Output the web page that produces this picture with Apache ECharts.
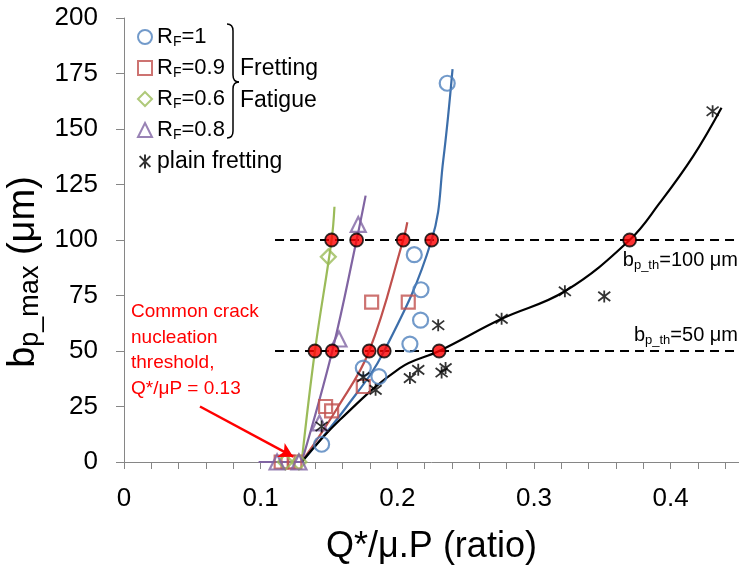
<!DOCTYPE html>
<html><head><meta charset="utf-8">
<script src="https://cdn.jsdelivr.net/npm/echarts@6/dist/echarts.min.js"></script>
<style>html,body{margin:0;padding:0;background:#fff}#c{width:739px;height:565px}</style>
</head><body><div id="c"></div>
<script>
// ---- data ----
const rf1 = [[0.1446,8],[0.1751,42.3],[0.1865,38.5],[0.2092,53.1],[0.217,63.9],[0.2173,77.6],[0.2124,93.4],[0.2365,170.6]];
const rf09 = [[0.115,0],[0.12,0],[0.125,0],[0.1475,25],[0.1519,23],[0.1751,34],[0.1812,72],[0.208,72]];
const rf06 = [[0.118,0],[0.128,0],[0.1495,92.4]];
const rf08 = [[0.112,0],[0.128,0],[0.143,17.6],[0.1573,55.4],[0.1714,107]];
const plain = [[0.1446,16],[0.1751,38.2],[0.1841,32.5],[0.2092,37.8],[0.2153,41.5],[0.2299,61.6],[0.2324,40.3],[0.2353,42.3],[0.2763,64.5],[0.3226,76.9],[0.3514,74.6],[0.4307,158]];
const fitRF1 = [[0.13,0],[0.163,25],[0.1904,50],[0.2251,100],[0.2336,136],[0.2404,177]];
const fitRF09 = [[0.13,0],[0.1568,25],[0.1794,50],[0.2043,100],[0.2073,108]];
const fitRF06 = [[0.13,0],[0.1397,50],[0.1519,100],[0.154,115]];
const fitRF08 = [[0.13,0],[0.1524,50],[0.1702,100],[0.1768,120]];
const flatRF08 = [[0.0985,0],[0.13,0]];
const fitPlain = [[0.13,0],[0.158,19],[0.2019,42.3],[0.2306,50],[0.2763,64.5],[0.3226,76.9],[0.37,100],[0.392,116.7],[0.4165,137.8],[0.4372,159.6]];
const thresholds = [50, 100];
const thresholdStart = 0.1105;
const crossings50 = [0.1397,0.1524,0.1794,0.1904,0.2306];
const crossings100 = [0.1519,0.1702,0.2043,0.2251,0.37];
const arrowFrom = [0.0556, 25];
const arrowTo = [0.1238, 2.4];
const xTickLabels = ['0','0.1','0.2','0.3','0.4'];
const yTickLabels = ['0','25','50','75','100','125','150','175','200'];

// ---- chart ----
const FONT = 'Liberation Sans';
const BLUE = '#4F81BD', BLUE_L = '#3C6EAA', RED = '#C0504D', GREEN = '#9BBB59', PURPLE = '#8064A2';
const chart = echarts.init(document.getElementById('c'));
const star = 'path://M0,0L10,10M10,0L0,10M5,-1.5L5,11.5';
const hollow = c => ({color: 'rgba(0,0,0,0)', borderColor: c, borderWidth: 2.2});
const dots = [];
crossings50.forEach(x => dots.push([x, thresholds[0]]));
crossings100.forEach(x => dots.push([x, thresholds[1]]));
const sub = {fontSize: 14, lineHeight: 12, verticalAlign: 'bottom', fontFamily: FONT, color: '#000'};
const braceStyle = {fill: 'none', stroke: '#000', lineWidth: 1.5};
const thRich = {a: {fontSize: 20, lineHeight: 24, fontFamily: FONT, fill: '#000'}, s: {fontSize: 13, lineHeight: 10, verticalAlign: 'bottom', fontFamily: FONT, fill: '#000'}};

chart.setOption({
  animation: false,
  grid: {left: 124, right: 0, top: 18, bottom: 103, containLabel: false, outerBoundsMode: 'none'},
  xAxis: {
    type: 'value', min: 0, max: 0.45, interval: 0.1,
    axisLine: {lineStyle: {color: '#868686', width: 1}},
    axisTick: {show: true, length: 7, lineStyle: {color: '#868686'}},
    minorTick: {show: true, splitNumber: 5, length: 7, lineStyle: {color: '#868686'}},
    splitLine: {show: false},
    axisLabel: {margin: 24, fontSize: 26, fontFamily: FONT, color: '#000', showMaxLabel: false,
      formatter: v => { const i = Math.round(v * 10); return xTickLabels[i] !== undefined ? xTickLabels[i] : ''; }},
    name: 'Q*/\u03bc.P (ratio)', nameLocation: 'middle', nameGap: 67,
    nameTextStyle: {fontSize: 36, fontFamily: FONT, color: '#000'}
  },
  yAxis: {
    type: 'value', min: 0, max: 200, interval: 25,
    axisLine: {show: true, lineStyle: {color: '#868686', width: 1}},
    axisTick: {show: true, length: 8, lineStyle: {color: '#868686'}},
    splitLine: {show: false},
    axisLabel: {margin: 26, fontSize: 26, fontFamily: FONT, color: '#000',
      formatter: v => yTickLabels[Math.round(v / 25)]},
    name: '{b|b}{s|p_max}{b| (\u03bcm)}', nameLocation: 'middle', nameGap: 80, nameRotate: 90,
    nameTextStyle: {padding: [0, 64, 0, 0], rich: {
      b: {fontSize: 38, lineHeight: 40, fontFamily: FONT, color: '#000'},
      s: {fontSize: 27, lineHeight: 18, verticalAlign: 'bottom', fontFamily: FONT, color: '#000'}
    }}
  },
  legend: {
    orient: 'vertical', left: 137, top: 26, padding: 0, itemGap: 8, itemWidth: 14, itemHeight: 14, itemTextGap: 5,
    data: [
      {name: 'RF=1', icon: 'circle'},
      {name: 'RF=0.9', icon: 'rect'},
      {name: 'RF=0.6', icon: 'diamond'},
      {name: 'RF=0.8', icon: 'triangle'},
      {name: 'plain fretting', icon: star}
    ],
    formatter: n => n.startsWith('RF') ? '{a|R}{s|F}{a|' + n.slice(2) + '}' : '{p|' + n + '}',
    textStyle: {rich: {
      a: {fontSize: 22, lineHeight: 24, fontFamily: FONT, color: '#000'},
      p: {fontSize: 23, lineHeight: 24, fontFamily: FONT, color: '#000'},
      s: sub}}
  },
  graphic: [
    {type: 'bezierCurve', shape: {x1: 227, y1: 24, cpx1: 233, cpy1: 24, x2: 233, y2: 31}, style: braceStyle},
    {type: 'line', shape: {x1: 233, y1: 31, x2: 233, y2: 75}, style: braceStyle},
    {type: 'bezierCurve', shape: {x1: 233, y1: 75, cpx1: 233, cpy1: 82, x2: 239, y2: 82}, style: braceStyle},
    {type: 'bezierCurve', shape: {x1: 239, y1: 82, cpx1: 233, cpy1: 82, x2: 233, y2: 89}, style: braceStyle},
    {type: 'line', shape: {x1: 233, y1: 89, x2: 233, y2: 131}, style: braceStyle},
    {type: 'bezierCurve', shape: {x1: 233, y1: 131, cpx1: 233, cpy1: 138, x2: 227, y2: 138}, style: braceStyle},
    {type: 'text', left: 240, top: 57, style: {text: 'Fretting', fontSize: 23, fontFamily: FONT, fill: '#000'}},
    {type: 'text', left: 240, top: 89, style: {text: 'Fatigue', fontSize: 23, fontFamily: FONT, fill: '#000'}},
    {type: 'text', left: 131, top: 299, style: {text: 'Common crack\nnucleation\nthreshold,\nQ*/\u03bcP = 0.13', fontSize: 19, lineHeight: 25.7, fontFamily: FONT, fill: '#FF0000'}},
    {type: 'text', right: 1, top: 250, style: {text: '{a|b}{s|p_th}{a|=100 \u03bcm}', rich: thRich}},
    {type: 'text', right: 1, top: 325, style: {text: '{a|b}{s|p_th}{a|=50 \u03bcm}', rich: thRich}}
  ],
  series: [
    {type: 'line', data: [[thresholdStart, thresholds[1]], [0.45, thresholds[1]]], symbol: 'none', silent: true,
     lineStyle: {color: '#000', width: 2, type: [9, 6]}, z: 1},
    {type: 'line', data: [[thresholdStart, thresholds[0]], [0.45, thresholds[0]]], symbol: 'none', silent: true,
     lineStyle: {color: '#000', width: 2, type: [9, 6]}, z: 1},
    {type: 'line', data: flatRF08, symbol: 'none', lineStyle: {color: PURPLE, width: 2.2}, z: 2},
    {type: 'line', data: fitRF06, symbol: 'none', smooth: 0.4, lineStyle: {color: GREEN, width: 2.2}, z: 2},
    {type: 'line', data: fitRF08, symbol: 'none', smooth: 0.4, lineStyle: {color: PURPLE, width: 2.2}, z: 2},
    {type: 'line', data: fitRF09, symbol: 'none', smooth: 0.4, lineStyle: {color: RED, width: 2.2}, z: 2},
    {type: 'line', data: fitRF1, symbol: 'none', smooth: 0.4, lineStyle: {color: BLUE_L, width: 2.2}, z: 2},
    {type: 'line', data: fitPlain, symbol: 'none', smooth: 0.4, lineStyle: {color: '#000', width: 2.2}, z: 2},
    {name: 'RF=1', type: 'scatter', data: rf1, symbol: 'circle', symbolSize: 15, itemStyle: hollow(BLUE), z: 3},
    {name: 'RF=0.9', type: 'scatter', data: rf09, symbol: 'rect', symbolSize: 13, itemStyle: hollow(RED), z: 3},
    {name: 'RF=0.6', type: 'scatter', data: rf06, symbol: 'diamond', symbolSize: 15, itemStyle: hollow(GREEN), z: 3},
    {name: 'RF=0.8', type: 'scatter', data: rf08, symbol: 'triangle', symbolSize: 15, itemStyle: hollow(PURPLE), z: 3},
    {name: 'plain fretting', type: 'scatter', data: plain, symbol: star, symbolSize: 12,
     itemStyle: {color: 'rgba(0,0,0,0)', borderColor: '#000', borderWidth: 1.8}, z: 3},
    {type: 'scatter', data: dots, symbol: 'circle', symbolSize: 13,
     itemStyle: {color: '#FF0000', borderColor: '#000', borderWidth: 1.8}, z: 4},
    {type: 'line', data: [], markLine: {silent: true, symbol: ['none', 'arrow'], symbolSize: [12, 14],
      lineStyle: {color: '#FF0000', width: 2.5, type: 'solid'}, label: {show: false},
      data: [[{coord: arrowFrom}, {coord: arrowTo}]]}}
  ]
});
</script>
</body></html>
